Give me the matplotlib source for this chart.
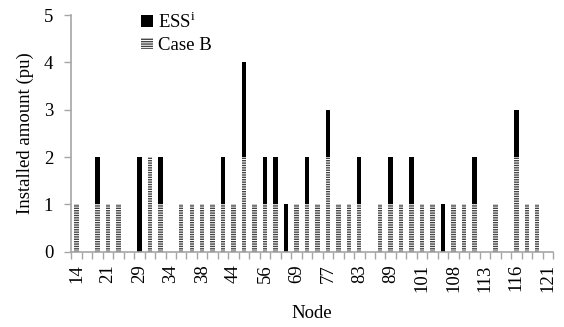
import numpy as np
import matplotlib
matplotlib.use('Agg')
import matplotlib.pyplot as plt
from matplotlib.ticker import FixedLocator, NullFormatter

plt.rcParams['font.family'] = ['Liberation Serif', 'DejaVu Serif']
plt.rcParams['hatch.linewidth'] = 1.0

# Data (46 node slots, every third node labelled on the axis)
tick_labels = ['14', '21', '29', '34', '38', '44', '56', '69',
               '77', '83', '89', '101', '108', '113', '116', '121']

# Case B installed amount (hatched, bottom segment)
case_b = [1, 0, 1, 1, 1, 0, 0, 2, 1, 0,
          1, 1, 1, 1, 1, 1, 2, 1, 1, 1,
          0, 1, 1, 1, 2, 1, 1, 1, 0, 1,
          1, 1, 1, 1, 1, 0, 1, 1, 1, 0,
          1, 0, 2, 1, 1, 0]

# ESS installed amount (black, stacked on top)
ess = [0, 0, 1, 0, 0, 0, 2, 0, 1, 0,
       0, 0, 0, 0, 1, 0, 2, 0, 1, 1,
       1, 0, 1, 0, 1, 0, 0, 1, 0, 0,
       1, 0, 1, 0, 0, 1, 0, 0, 1, 0,
       0, 0, 1, 0, 0, 0]

AXIS_GRAY = '#a6a6a6'
FS = 13.5

fig = plt.figure(figsize=(5.64, 3.27), dpi=100)
ax = fig.add_axes([0.1264, 0.2303, 0.8541, 0.7237])

x = np.arange(len(case_b))
ax.bar(x, case_b, width=0.42, color='white', edgecolor='#444444',
       linewidth=0, hatch='-------', label='Case B')
ax.bar(x, ess, width=0.42, bottom=case_b, color='black', linewidth=0,
       label=r'ESS$^{\mathregular{i}}$')

ax.set_xlim(-0.5, len(case_b) - 0.5)
ax.set_ylim(0, 5)
ax.set_yticks(range(0, 6))

# labels every third slot, tick marks at slot boundaries
ax.xaxis.set_major_locator(FixedLocator(x[::3]))
ax.set_xticklabels(tick_labels, rotation=90)
ax.xaxis.set_minor_locator(FixedLocator(np.arange(-0.5, len(case_b), 1.0)))
ax.xaxis.set_minor_formatter(NullFormatter())
ax.tick_params(axis='x', which='major', length=0, pad=9, labelsize=FS)
ax.tick_params(axis='x', which='minor', length=5, width=1, color=AXIS_GRAY,
               direction='out')
ax.tick_params(axis='y', length=5, width=1, color=AXIS_GRAY, labelsize=FS,
               pad=8)

for side in ['top', 'right']:
    ax.spines[side].set_visible(False)
for side in ['left', 'bottom']:
    ax.spines[side].set_color(AXIS_GRAY)
    ax.spines[side].set_linewidth(1.2)

ax.set_xlabel('Node', fontsize=FS, labelpad=9)
ax.set_ylabel('Installed amount (pu)', fontsize=FS, labelpad=7)

handles, labels = ax.get_legend_handles_labels()
ax.legend(handles[::-1], labels[::-1], loc='upper left',
          bbox_to_anchor=(0.13, 1.05), frameon=False, fontsize=FS,
          handlelength=0.6, handleheight=0.6, handletextpad=0.3,
          labelspacing=0.3, borderaxespad=0)

fig.savefig('out.png', dpi=100)
